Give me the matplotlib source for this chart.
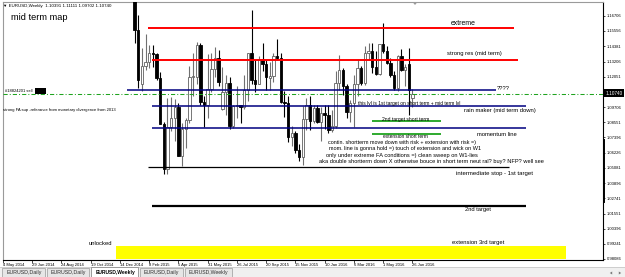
import matplotlib
matplotlib.use('Agg')
import matplotlib.pyplot as plt
import matplotlib.dates as mdates
from matplotlib.patches import Rectangle, Polygon
from matplotlib.lines import Line2D
import numpy as np
import pandas as pd

W, H, DPI = 625, 277, 100
FONT = ['Liberation Sans', 'DejaVu Sans']
plt.rcParams['font.family'] = FONT
plt.rcParams['lines.scale_dashes'] = False

# ---------------- data ----------------
header_symbol = "EURUSD,Weekly"
header_ohlc = ["1.10391", "1.11111", "1.09702", "1.10740"]
current_price = 1.10740
order_label = "#18824201 sell"
order_price = 1.1072
chart_title = "mid term map"

candle_start = "2015-01-11"
opens = [1.1840, 1.1566, 1.1150, 1.1290, 1.1316, 1.1388, 1.1380, 1.1195, 1.0843, 1.0495,
         1.0822, 1.0890, 1.0970, 1.0600, 1.0805, 1.0870, 1.1200, 1.1200, 1.1450, 1.1015,
         1.0985, 1.1110, 1.1265, 1.1350, 1.0960, 1.1090, 1.1160, 1.0830, 1.0980, 1.0985,
         1.0970, 1.1105, 1.1385, 1.1182, 1.1150, 1.1338, 1.1300, 1.1195, 1.1210, 1.1360,
         1.1350, 1.1015, 1.1000, 1.0740, 1.0770, 1.0645, 1.0590, 1.0880, 1.0990, 1.0865,
         1.0965, 1.0860, 1.0925, 1.0915, 1.0795, 1.0830, 1.1155, 1.1255, 1.1130, 1.0935,
         1.1005, 1.1150, 1.1270, 1.1160, 1.1390, 1.1400, 1.1280, 1.1225, 1.1455, 1.1400,
         1.1310, 1.1220, 1.1115, 1.1365, 1.1253, 1.1300, 1.10391]
highs = [1.1870, 1.1680, 1.1425, 1.1534, 1.1450, 1.1450, 1.1390, 1.1240, 1.0860, 1.1043,
         1.1052, 1.1035, 1.1000, 1.0850, 1.0890, 1.1290, 1.1390, 1.1467, 1.1460, 1.1060,
         1.1380, 1.1385, 1.1436, 1.1410, 1.1280, 1.1215, 1.1200, 1.0985, 1.1130, 1.0990,
         1.1215, 1.1390, 1.1714, 1.1330, 1.1360, 1.1460, 1.1330, 1.1317, 1.1390, 1.1495,
         1.1390, 1.1097, 1.1060, 1.0830, 1.0790, 1.0690, 1.0980, 1.1045, 1.1060, 1.0990,
         1.0990, 1.0970, 1.0990, 1.0990, 1.0950, 1.1245, 1.1375, 1.1270, 1.1150, 1.1025,
         1.1220, 1.1340, 1.1290, 1.1440, 1.1460, 1.1465, 1.1400, 1.1455, 1.1615, 1.1440,
         1.1350, 1.1250, 1.1375, 1.1415, 1.1300, 1.1427, 1.11111]
lows = [1.1460, 1.1115, 1.1098, 1.1260, 1.1270, 1.1280, 1.1177, 1.0840, 1.0462, 1.0460,
        1.0790, 1.0712, 1.0600, 1.0520, 1.0660, 1.0850, 1.1060, 1.1150, 1.0990, 1.0820,
        1.0886, 1.1090, 1.1200, 1.1130, 1.0950, 1.0915, 1.0808, 1.0810, 1.0890, 1.0850,
        1.0960, 1.1020, 1.1150, 1.1087, 1.1150, 1.1250, 1.1106, 1.1105, 1.1162, 1.1330,
        1.1000, 1.0897, 1.0705, 1.0675, 1.0617, 1.0560, 1.0525, 1.0800, 1.0800, 1.0850,
        1.0850, 1.0710, 1.0805, 1.0775, 1.0780, 1.0810, 1.1100, 1.1065, 1.0890, 1.0860,
        1.0820, 1.1060, 1.1140, 1.1145, 1.1330, 1.1235, 1.1215, 1.1215, 1.1385, 1.1305,
        1.1200, 1.1100, 1.1095, 1.1250, 1.1130, 1.0910, 1.09702]
closes = [1.1566, 1.1180, 1.1290, 1.1316, 1.1388, 1.1380, 1.1195, 1.0843, 1.0495, 1.0822,
          1.0890, 1.0970, 1.0600, 1.0805, 1.0870, 1.1200, 1.1210, 1.1450, 1.1015, 1.0985,
          1.1110, 1.1265, 1.1350, 1.1163, 1.1090, 1.1160, 1.0830, 1.0980, 1.0985, 1.0970,
          1.1105, 1.1385, 1.1182, 1.1150, 1.1338, 1.1300, 1.1200, 1.1210, 1.1360, 1.1350,
          1.1015, 1.1000, 1.0740, 1.0770, 1.0645, 1.0590, 1.0880, 1.0990, 1.0865, 1.0965,
          1.0860, 1.0925, 1.0915, 1.0795, 1.0830, 1.1155, 1.1255, 1.1130, 1.0935, 1.1005,
          1.1150, 1.1270, 1.1160, 1.1390, 1.1400, 1.1280, 1.1225, 1.1455, 1.1400, 1.1310,
          1.1220, 1.1115, 1.1365, 1.1253, 1.1278, 1.1100, 1.10740]

level_names = ["extreme", "strong res (mid term)", "????", "rain maker (mid term down)",
               "momentum line", "2nd target short term", "extension short term",
               "intermediate stop - 1st target", "2nd target"]
level_prices = [1.1579, 1.1333, 1.1103, 1.0981, 1.0812, 1.0866, 1.0766, 1.0513, 1.0215]
level_start = ["2015-02-06", "2015-02-13", "2014-12-27", "2015-02-13", "2015-02-13",
               "2016-04-10", "2016-04-10", "2015-02-06", "2015-02-13"]
level_end = ["2017-01-07", "2017-01-15", "2016-12-03", "2017-01-30", "2017-01-30",
             "2016-08-20", "2016-08-20", "2016-12-28", "2017-01-30"]

zone_label = "extension 3rd target"
zone_start, zone_end = "2014-12-06", "2017-04-16"
zone_low, zone_high = 0.9812, 0.9908
zone_side_label = "unlocked"

fa_note = "strong FA sup -referance from monetary divergence from 2013"
lvl_note = "this lvl is 1st target on short term + mid term lvl"
comment_lines = ["contin. shortterm move down with risk + extension with risk =)",
                 "mom. line is gonna hold =) touch of extension and wick on W1",
                 "only under extreme FA conditions =) clean sweep on W1-lies",
                 "aka double shortterm down X otherwise bouce in short term neut ral? buy? NFP? well see"]

date_ticks = ["2014-05-04", "2014-06-29", "2014-08-24", "2014-10-19", "2014-12-14",
              "2015-02-08", "2015-04-05", "2015-05-31", "2015-07-26", "2015-09-20",
              "2015-11-15", "2016-01-10", "2016-03-06", "2016-05-01", "2016-06-26"]
date_labels = ["4 May 2014", "29 Jun 2014", "24 Aug 2014", "19 Oct 2014", "14 Dec 2014",
               "8 Feb 2015", "5 Apr 2015", "31 May 2015", "26 Jul 2015", "20 Sep 2015",
               "15 Nov 2015", "10 Jan 2016", "6 Mar 2016", "1 May 2016", "26 Jun 2016"]
price_ticks = [1.16706, 1.15556, 1.14381, 1.13206, 1.12051, 1.09706, 1.08551, 1.07396,
               1.06226, 1.05081, 1.03896, 1.02741, 1.01551, 1.00396, 0.99241, 0.98086]
price_labels = ["1.16706", "1.15556", "1.14381", "1.13206", "1.12051", "1.09706", "1.08551",
                "1.07396", "1.06226", "1.05081", "1.03896", "1.02741", "1.01551", "1.00396",
                "0.99241", "0.98086"]

tab_names = ["EURUSD,Daily", "EURUSD,Daily", "EURUSD,Weekly", "EURUSD,Daily", "EURUSD,Weekly"]
active_tab = 2

# ---------------- figure ----------------
fig = plt.figure(figsize=(W / DPI, H / DPI), dpi=DPI, facecolor='white')
renderer = fig.canvas.get_renderer()


def measure(s, weight='normal'):
    t = fig.text(0, 0, s, fontsize=10, weight=weight)
    w = t.get_window_extent(renderer).width
    t.remove()
    return w


def fit(s, width, weight='normal'):
    return 10.0 * width / measure(s, weight)


def ftext(x0, x1, yc, s, color='black', weight='normal', ha='left', zorder=5):
    fs = fit(s, x1 - x0, weight)
    x = x0 if ha == 'left' else (x0 + x1) / 2.0
    return fig.text(x / W, 1 - yc / H, s, fontsize=fs, color=color, weight=weight,
                    ha=ha, va='center', zorder=zorder)


def frect(x0, y0, x1, y1, fc, ec='none', lw=0.0, zorder=1):
    r = Rectangle((x0 / W, 1 - y1 / H), (x1 - x0) / W, (y1 - y0) / H,
                  transform=fig.transFigure, facecolor=fc, edgecolor=ec, lw=lw, zorder=zorder)
    fig.add_artist(r)
    return r


# main chart axes (pixel box 3..603 x 2..260)
ax = fig.add_axes([3 / W, 1 - 260 / H, 600 / W, 258 / H])
ax.set_facecolor('white')
ax.set_xlim(mdates.date2num(pd.Timestamp("2014-05-04")), mdates.date2num(pd.Timestamp("2017-06-26")))
ax.set_ylim(0.98009, 1.17772)

# candles
d = mdates.date2num(pd.date_range(candle_start, periods=len(opens), freq='7D'))
o = np.array(opens); h = np.array(highs); l = np.array(lows); c = np.array(closes)
bull = c >= o
wick_cols = ['#707070' if b else '#000000' for b in bull]
ax.vlines(d, l, h, colors=wick_cols, lw=0.8, zorder=2)
bottom = np.minimum(o, c)
height = np.maximum(np.abs(c - o), 0.0003)
face = ['white' if b else 'black' for b in bull]
edge = ['#606060' if b else 'black' for b in bull]
ax.bar(d, height, bottom=bottom, width=4.6, color=face, edgecolor=edge, linewidth=0.6, zorder=3)

# yellow zone
zs = mdates.date2num(pd.Timestamp(zone_start)); ze = mdates.date2num(pd.Timestamp(zone_end))
ax.add_patch(Rectangle((zs, zone_low), ze - zs, zone_high - zone_low,
                       facecolor='#FFFF00', edgecolor='none', zorder=1))

# level lines
level_colors = ['#FF0000', '#FF0000', '#000080', '#000080', '#000080',
                '#2EAA2E', '#2EAA2E', '#000000', '#000000']
level_widths = [1.4, 1.4, 1.1, 1.1, 1.1, 1.4, 1.4, 0.9, 1.6]
for p, s, e, col, lw in zip(level_prices, level_start, level_end, level_colors, level_widths):
    ax.hlines(p, mdates.date2num(pd.Timestamp(s)), mdates.date2num(pd.Timestamp(e)),
              colors=col, lw=lw, zorder=4)

# order line (green dash-dot)
ax.axhline(order_price, color='#1FA31F', lw=0.75, ls=(0, (3.0, 1.5, 0.7, 1.5)), zorder=4)

# axes styling
for side in ['left', 'top']:
    ax.spines[side].set_color('#9a9a9a')
    ax.spines[side].set_linewidth(0.8)
for side in ['right', 'bottom']:
    ax.spines[side].set_color('black')
    ax.spines[side].set_linewidth(0.8)

ax.yaxis.tick_right()
ax.set_yticks(price_ticks)
ax.set_yticklabels(price_labels)
ysize = fit("1.16706", 15)
ax.tick_params(axis='y', which='both', right=True, left=False, length=1.5, width=0.5,
               pad=1.2, labelsize=ysize, colors='black')

ax.set_xticks([mdates.date2num(pd.Timestamp(t)) for t in date_ticks])
xsize = fit("29 Jun 2014", 23)
ax.set_xticklabels(date_labels, ha='left', fontsize=xsize)
ax.tick_params(axis='x', length=2.0, width=0.5, pad=0.4, labelsize=xsize)

# current price box on the scale
frect(604, 89.5, 624, 97, 'black', zorder=6)
ftext(605.5, 622.5, 93.3, f"{current_price:.5f}", color='white', zorder=7)

# thick segment on price scale
fig.add_artist(Line2D([603.5 / W, 603.5 / W], [1 - 140 / H, 1 - 202 / H], color='black', lw=1.4,
                      transform=fig.transFigure, zorder=6))

# chart shift marker
fig.add_artist(Polygon([[412.5 / W, 1 - 2 / H], [417.5 / W, 1 - 2 / H], [415 / W, 1 - 5 / H]],
                       closed=True, transform=fig.transFigure, facecolor='#9a9a9a',
                       edgecolor='none', zorder=6))

# texts
ftext(3, 110, 5.5, "\u25bc " + header_symbol + "  " + " ".join(header_ohlc))
ftext(11, 68, 17, chart_title)
ftext(5, 33, 91, order_label)
frect(35, 88, 46, 94, 'black', zorder=6)
ftext(3, 119, 110, fa_note)

label_boxes = [(451, 476, 23.5), (447.3, 502.3, 54), (497, 510, 88), (464, 536.7, 111),
               (476.7, 516.7, 134.5), (381.7, 428.3, 119.5), (383.3, 427.7, 136.5),
               (456, 532.3, 174), (465, 491, 210)]
for name, (x0, x1, yc) in zip(level_names, label_boxes):
    ftext(x0, x1, yc, name)

ftext(357.7, 459.3, 103.5, lvl_note)
comment_boxes = [(328.3, 476.7, 142.5), (329.3, 482, 148.5), (325.7, 476, 155), (319.3, 545.7, 161)]
for s, (x0, x1, yc) in zip(comment_lines, comment_boxes):
    ftext(x0, x1, yc, s)

ftext(452.3, 504, 242.5, zone_label)
ftext(89, 112.7, 243.5, zone_side_label)

# tab bar
frect(0, 267, W, H, '#F0F0F0', zorder=1)
fig.add_artist(Line2D([0, 1], [1 - 267 / H, 1 - 267 / H], color='#c8c8c8', lw=0.6,
                      transform=fig.transFigure, zorder=2))
tab_boxes = [(2, 45), (47, 89), (91, 138), (140, 183), (185, 232)]
tab_text = [(6.7, 41.7), (50.7, 86), (95, 135), (144.3, 179.3), (188.7, 228.3)]
for k, (name, (x0, x1), (t0, t1)) in enumerate(zip(tab_names, tab_boxes, tab_text)):
    if k == active_tab:
        frect(x0, 266.5, x1, 277.5, 'white', ec='#8c8c8c', lw=0.6, zorder=2)
        ftext(t0, t1, 272.7, name, weight='bold', ha='center', zorder=3)
    else:
        frect(x0, 268, x1, 277.5, '#E6E6E6', ec='#a8a8a8', lw=0.6, zorder=2)
        ftext(t0, t1, 272.7, name, color='#303030', ha='center', zorder=3)

for xa, sgn in [(611, -1), (620, 1)]:
    fig.add_artist(Polygon([[(xa - 1.2 * sgn) / W, 1 - 271.5 / H], [(xa - 1.2 * sgn) / W, 1 - 274.5 / H],
                            [(xa + 1.2 * sgn) / W, 1 - 273 / H]], closed=True,
                           transform=fig.transFigure, facecolor='#7a7a7a', edgecolor='none', zorder=3))

fig.savefig("out.png", dpi=DPI, facecolor='white')
